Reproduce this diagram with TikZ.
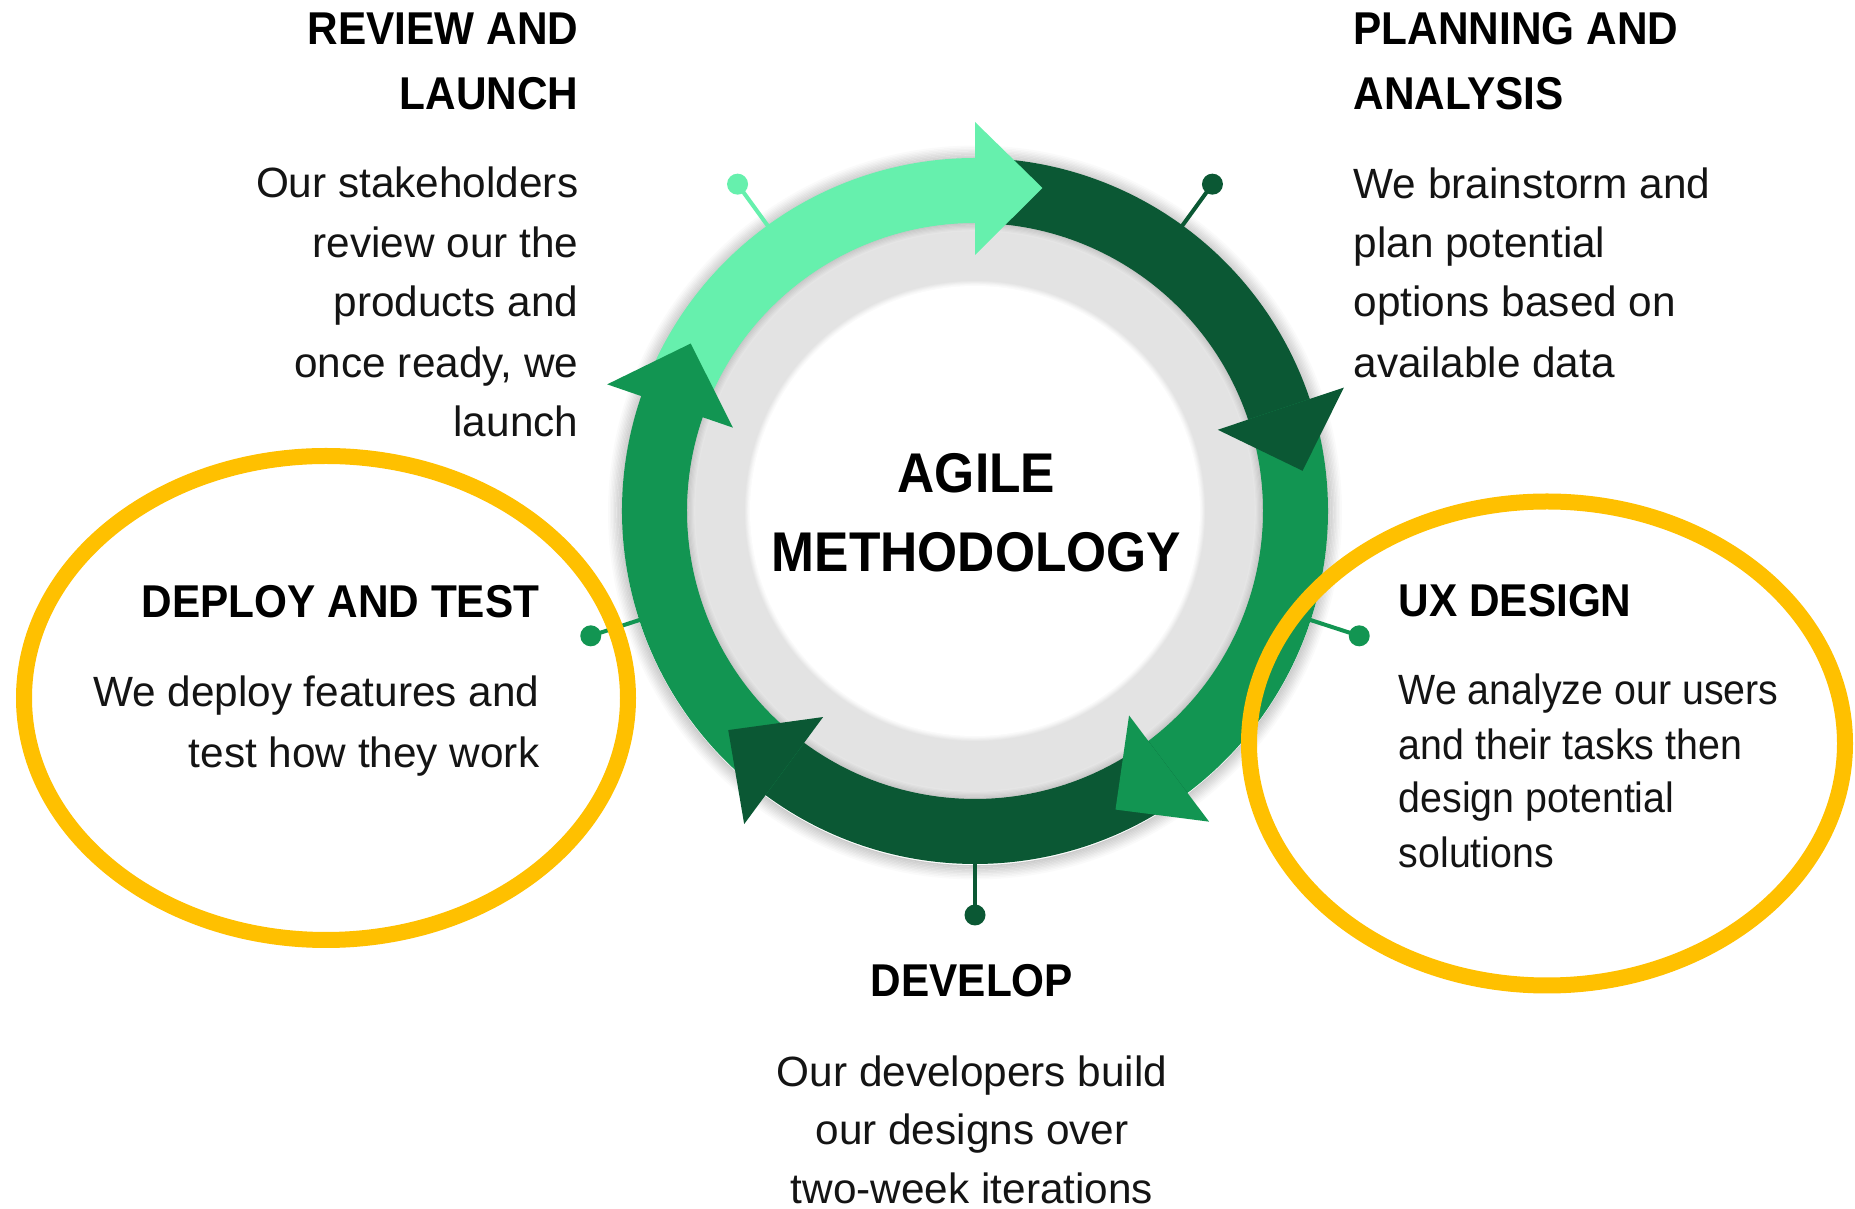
\documentclass[tikz,border=0pt]{standalone}
\usepackage{fontspec}
\setmainfont{Liberation Sans}[BoldFeatures={FakeStretch=0.92}]
\newfontfamily\uxfont{Liberation Sans}[FakeStretch=0.93]
\definecolor{lgreen}{HTML}{66F0AD}
\definecolor{dgreen}{HTML}{0B5834}
\definecolor{mgreen}{HTML}{129552}
\definecolor{ringgray}{HTML}{E3E3E3}
\definecolor{gold}{HTML}{FFC000}
\definecolor{txt}{HTML}{141414}
\newcommand\ringseg[3]{\fill[#1] (#2:3.53) arc[start angle=#2, end angle=#3, radius=3.53] -- (#3:2.88) arc[start angle=#3, end angle=#2, radius=2.88] -- cycle;}
\newcommand\arrowhd[3]{\fill[#1] (#2:2.56) -- (#2:3.89) -- (#3:3.30) -- cycle;}
\begin{document}
\begin{tikzpicture}[
  body/.style={inner sep=0pt, text=txt, font=\fontsize{12.04pt}{14pt}\selectfont},
  uxbody/.style={inner sep=0pt, text=txt, font=\uxfont\fontsize{12.04pt}{14pt}\selectfont},
  head/.style={inner sep=0pt, text=black, font=\bfseries\fontsize{13.09pt}{15pt}\selectfont},
  title/.style={inner sep=0pt, text=black, font=\bfseries\fontsize{15.93pt}{18pt}\selectfont},
  pindot/.style={circle, inner sep=0pt, minimum size=0.21cm, fill=#1},
  pinline/.style={line width=0.04cm, draw=#1},
  oval/.style={draw=gold, line width=0.16cm},
]
\useasboundingbox (0,0) rectangle (18.55,12.09);
\fill[white] (0,0) rectangle (18.55,12.09);

\coordinate (C) at (9.75,6.98);
\begin{scope}[shift={(C)}]
  % soft outer shadow
  \foreach \k in {0,...,9} {
    \pgfmathtruncatemacro\sh{20-2*\k}
    \draw[black!\sh, line width=0.016cm] (0,-0.015) circle[radius={3.535+0.014*\k}];
  }
  % pins (lines)
  \foreach \a/\c [count=\i] in {126/lgreen, 54/dgreen, -18/mgreen, -90/dgreen, -162/mgreen} {
    \coordinate (pa\i) at (\a:3.45);
    \node[pindot=\c] (pd\i) at (\a:4.04) {};
    \draw[pinline=\c] (pa\i) -- (pd\i.center);
  }
  % gray band
  \fill[ringgray] (0,0) circle[radius=2.9];
  \foreach \k in {0,...,7} {
    \pgfmathtruncatemacro\sh{24-2*\k}
    \draw[black!\sh, line width=0.014cm] (0,0) circle[radius={2.885-0.012*\k}];
  }
  % white disc with soft edge
  \foreach \k in {0,...,6} {
    \pgfmathtruncatemacro\wh{14*\k}
    \fill[white!\wh!ringgray] (0,0) circle[radius={2.31-0.008*\k}];
  }
  \fill[white] (0,0) circle[radius=2.25];
  % arrow bodies
  \ringseg{lgreen}{161}{89}
  \ringseg{dgreen}{90}{17.5}
  \ringseg{mgreen}{18.5}{-54}
  \ringseg{dgreen}{-53}{-127.4}
  \ringseg{mgreen}{-126.4}{-200}
  % arrow heads
  \arrowhd{lgreen}{90}{78.2}
  \arrowhd{dgreen}{18.5}{7}
  \arrowhd{mgreen}{-53}{-64.8}
  \arrowhd{dgreen}{-126.4}{-138.4}
  \arrowhd{mgreen}{161}{149.5}
\end{scope}

% highlight ovals
\draw[oval] (3.26,5.11) ellipse[x radius=3.02, y radius=2.42];
\draw[oval] (15.47,4.655) ellipse[x radius=2.98, y radius=2.42];

% centre title
\node[title, anchor=base] (t1) at (9.765,7.161) {AGILE};
\node[title, anchor=base] (t2) at (9.765,6.37) {METHODOLOGY};

% review and launch
\node[head, anchor=base east] (rh1) at (5.79,11.64) {REVIEW AND};
\node[head, anchor=base east] (rh2) at (5.79,10.99) {LAUNCH};
\node[body, anchor=base east] (rb1) at (5.79,10.11) {Our stakeholders};
\node[body, anchor=base east] (rb2) at (5.79,9.51) {review our the};
\node[body, anchor=base east] (rb3) at (5.79,8.92) {products and};
\node[body, anchor=base east] (rb4) at (5.79,8.31) {once ready, we};
\node[body, anchor=base east] (rb5) at (5.79,7.72) {launch};

% planning and analysis
\node[head, anchor=base west] (ph1) at (13.53,11.64) {PLANNING AND};
\node[head, anchor=base west] (ph2) at (13.53,10.99) {ANALYSIS};
\node[body, anchor=base west] (pb1) at (13.53,10.10) {We brainstorm and};
\node[body, anchor=base west] (pb2) at (13.53,9.51) {plan potential};
\node[body, anchor=base west] (pb3) at (13.53,8.92) {options based on};
\node[body, anchor=base west] (pb4) at (13.53,8.31) {available data};

% deploy and test
\node[head, anchor=base east] (dh1) at (5.40,5.91) {DEPLOY AND TEST};
\node[body, anchor=base east] (db1) at (5.40,5.023) {We deploy features and};
\node[body, anchor=base east] (db2) at (5.40,4.41) {test how they work};

% ux design
\node[head, anchor=base west] (uh1) at (13.98,5.92) {UX DESIGN};
\node[uxbody, anchor=base west] (ub1) at (13.98,5.04) {We analyze our users};
\node[uxbody, anchor=base west] (ub2) at (13.98,4.497) {and their tasks then};
\node[uxbody, anchor=base west] (ub3) at (13.98,3.96) {design potential};
\node[uxbody, anchor=base west] (ub4) at (13.98,3.41) {solutions};

% develop
\node[head, anchor=base] (vh1) at (9.72,2.123) {DEVELOP};
\node[body, anchor=base] (vb1) at (9.72,1.223) {Our developers build};
\node[body, anchor=base] (vb2) at (9.72,0.64) {our designs over};
\node[body, anchor=base] (vb3) at (9.72,0.057) {two-week iterations};
\end{tikzpicture}
\end{document}
